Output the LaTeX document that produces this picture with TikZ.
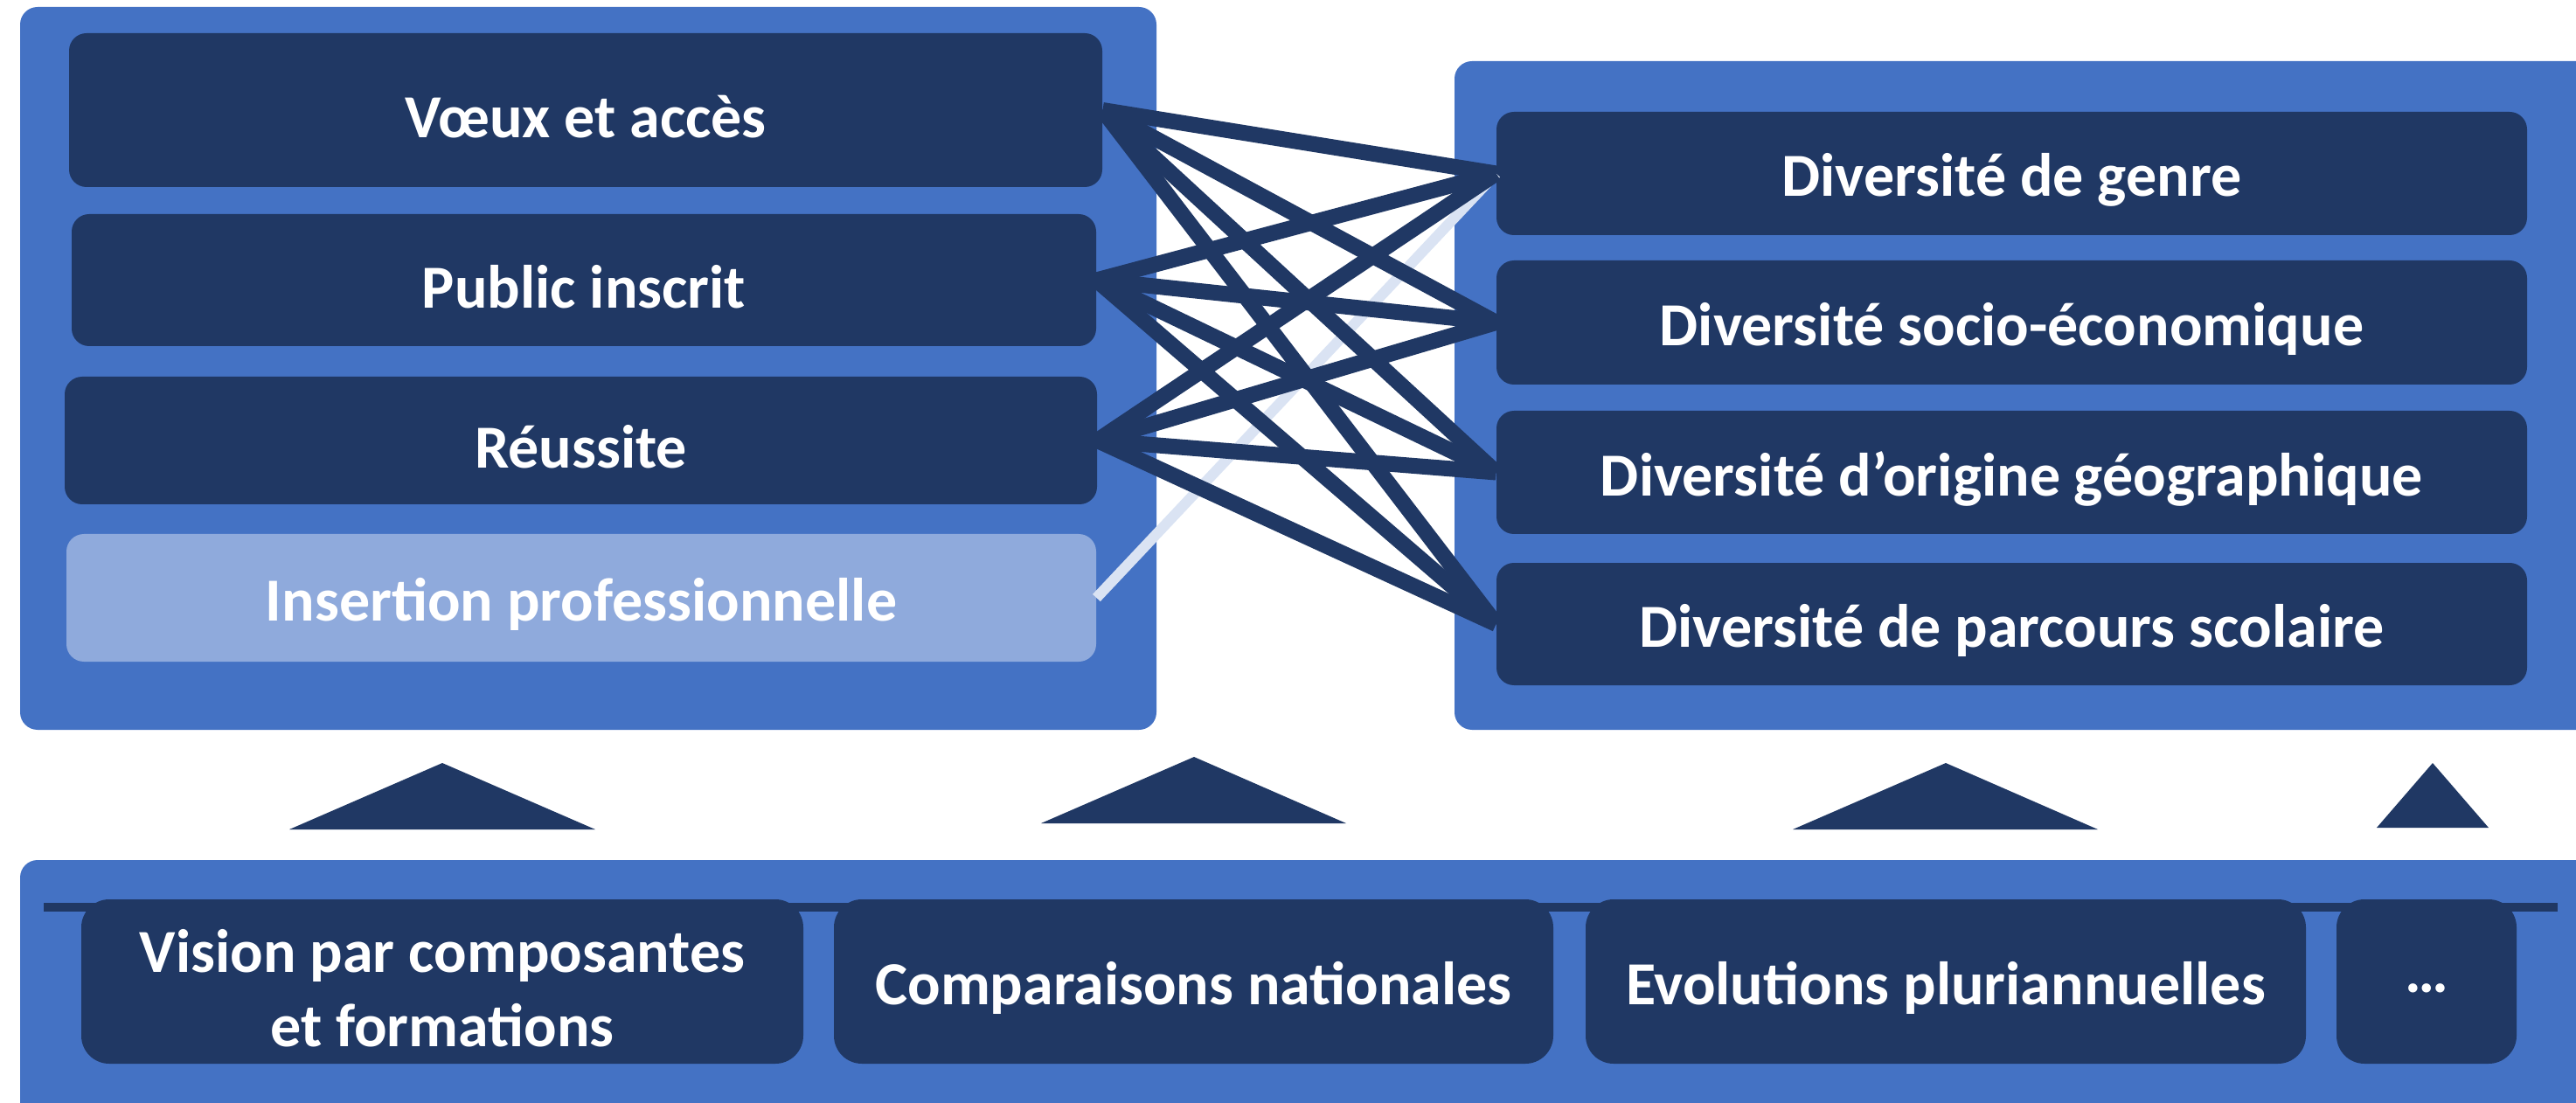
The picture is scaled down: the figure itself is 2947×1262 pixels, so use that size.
\documentclass[tikz,border=0pt]{standalone}
\usepackage{fontspec}
\setmainfont{Carlito}
\definecolor{cont}{HTML}{4472C4}
\definecolor{dark}{HTML}{203864}
\definecolor{pale}{HTML}{8FAADC}
\definecolor{lite}{HTML}{DAE3F3}
\tikzset{
  x=0.5pt, y=-0.5pt,
  txt/.style={text=white, font=\fontsize{35}{42.5}\selectfont\bfseries,
    align=center, inner sep=0pt, yshift=-3.75pt},
  dbox/.style={draw=none, fill=dark, rounded corners=10pt, inner sep=0pt},
  pbox/.style={dbox, fill=pale},
  bbox/.style={dbox, rounded corners=16pt, minimum height=94pt},
  link/.style={draw=dark, line width=9pt},
  plink/.style={draw=lite, line width=6pt},
  tri/.style={fill=dark, draw=none}
}
\begin{document}
\begin{tikzpicture}
\useasboundingbox (0,0) rectangle (2947,1262);
\clip (0,0) rectangle (2947,1262);
% containers
\fill[cont, rounded corners=10pt] (23,8) rectangle (1323,835);
\fill[cont, rounded corners=10pt] (1664,70) rectangle (2990,835);
\fill[cont, rounded corners=10pt] (23,984) rectangle (2990,1300);
% left boxes
\node[dbox, minimum width=591pt, minimum height=88pt, label={[txt]center:Vœux et accès}] (v) at (670,126) {};
\node[dbox, minimum width=586pt, minimum height=75.5pt, label={[txt]center:Public inscrit}] (p) at (668,320.5) {};
\node[dbox, minimum width=590.5pt, minimum height=73pt, label={[txt]center:Réussite}] (r) at (664.5,504) {};
\node[pbox, minimum width=589pt, minimum height=73pt, label={[txt]center:Insertion professionnelle}] (i) at (665,684) {};
% right boxes
\node[dbox, minimum width=589.5pt, minimum height=70.5pt, label={[txt]center:Diversité de genre}] (g) at (2301.5,198.5) {};
\node[dbox, minimum width=589.5pt, minimum height=71pt, label={[txt]center:Diversité socio-économique}] (s) at (2301.5,369) {};
\node[dbox, minimum width=589.5pt, minimum height=70.5pt, label={[txt]center:Diversité d’origine géographique}] (o) at (2301.5,540.5) {};
\node[dbox, minimum width=589.5pt, minimum height=70pt, label={[txt]center:Diversité de parcours scolaire}] (c) at (2301.5,714) {};
% connectors
\draw[plink] (i.east) -- (g.west);
\foreach \a in {v,p,r}{
  \foreach \b in {g,s,o,c}{
    \draw[link] (\a.east) -- (\b.west);
  }
}
% bottom line
\coordinate (la) at (50,1038);
\coordinate (lb) at (2926,1038);
\draw[dark, line width=5pt] (la) -- (lb);
% bottom boxes
\node[bbox, minimum width=413pt, label={[txt]center:Vision par composantes\\et formations}] (b1) at (506,1123) {};
\node[bbox, minimum width=411.5pt, label={[txt]center:Comparaisons nationales}] (b2) at (1365.5,1123) {};
\node[bbox, minimum width=412pt, label={[txt]center:Evolutions pluriannuelles}] (b3) at (2226,1123) {};
\node[bbox, minimum width=103pt, label={[txt]center:…}] (b4) at (2776,1123) {};
% triangles
\fill[tri] (331,949) -- (506,873) -- (681,949) -- cycle;
\fill[tri] (1191,942) -- (1366,866) -- (1540,942) -- cycle;
\fill[tri] (2051,949) -- (2226,873) -- (2400,949) -- cycle;
\fill[tri] (2719,947) -- (2783,873) -- (2847,947) -- cycle;
\end{tikzpicture}
\end{document}
